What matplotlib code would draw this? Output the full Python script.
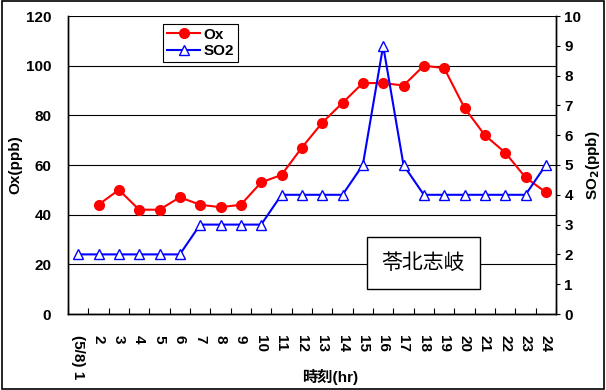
import numpy as np
import matplotlib
matplotlib.use("Agg")
import matplotlib.pyplot as plt
from matplotlib.patches import Rectangle

hours = list(range(1, 25))
hour_labels = ["(5/8) 1"] + [str(h) for h in range(2, 25)]
ox = [np.nan, 44, 50, 42, 42, 47, 44, 43, 44, 53, 56, 67, 77, 85, 93, 93, 92, 100, 99, 83, 72, 65, 55, 49]
so2 = [2, 2, 2, 2, 2, 2, 3, 3, 3, 3, 4, 4, 4, 4, 5, 9, 5, 4, 4, 4, 4, 4, 4, 5]
station = "苓北志岐"

plt.rcParams["font.family"] = ["Liberation Sans", "Noto Sans CJK JP", "DejaVu Sans"]
plt.rcParams["font.weight"] = "bold"

W, H = 606, 390
fig = plt.figure(figsize=(W / 100, H / 100), dpi=100)
ax = fig.add_axes([68 / W, 1 - 314 / H, 488 / W, 298 / H])
ax2 = ax.twinx()

x = np.arange(len(hours))
ax.plot(x, ox, color="#ff0000", lw=1.5, marker="o", ms=7, label="Ox", zorder=3)
ax2.plot(x, so2, color="#0000ff", lw=1.5, marker="^", ms=7, mfc="white", mec="#0000ff",
         mew=1.0, label="SO2", zorder=3)

ax.set_xlim(-0.5, len(hours) - 0.5)
ax.set_ylim(0, 120)
ax.set_yticks(range(0, 121, 20))
ax2.set_ylim(0, 10)
ax2.set_yticks(range(0, 11))
ax.yaxis.grid(True, color="black", lw=0.8)
ax.set_axisbelow(True)

ax.set_xticks(x)
ax.set_xticklabels(hour_labels, rotation=270, fontsize=11, fontweight="bold")
ax.tick_params(axis="x", length=0, pad=15)
ax.set_xticks(np.arange(-0.5, len(hours)), minor=True)
ax.tick_params(axis="x", which="minor", direction="in", length=4, width=0.8)
ax.tick_params(axis="y", length=0, labelsize=11, pad=12)
ax2.tick_params(axis="y", direction="out", length=3, width=0.8, labelsize=11, pad=3)
for lab in ax.get_yticklabels() + ax2.get_yticklabels():
    lab.set_fontweight("bold")

for a in (ax, ax2):
    for s in ("left", "right", "bottom"):
        a.spines[s].set_linewidth(1.0)
    a.spines["top"].set_visible(False)

fig.text(15 / W, 1 - 165 / H, "Ox(ppb)", rotation=90, ha="center", va="center",
         fontsize=11, fontweight="bold")
fig.text(593 / W, 1 - 165 / H, "SO$_\\mathbf{2}$(ppb)", rotation=90, ha="center", va="center",
         fontsize=11, fontweight="bold")
fig.text(330 / W, 1 - 377 / H, "時刻(hr)", ha="center", va="center", fontsize=11,
         fontweight="bold", family=["Liberation Sans", "Noto Sans CJK JP"])

h1, l1 = ax.get_legend_handles_labels()
h2, l2 = ax2.get_legend_handles_labels()
leg = ax2.legend(h1 + h2, l1 + l2, loc="upper left", bbox_to_anchor=((163 - 68) / 488, (314 - 24) / 298),
                 borderaxespad=0, frameon=True, fancybox=False, edgecolor="black", framealpha=1,
                 handlelength=2.2, handletextpad=0.2, borderpad=0.25,
                 labelspacing=0.15, prop={"weight": "bold", "size": 11})
leg.get_frame().set_linewidth(0.8)

ax2.text((423.5 - 68) / 488, (314 - 263) / 298, station, transform=ax2.transAxes,
         ha="center", va="center", fontsize=15, family=["Noto Sans CJK JP"], fontweight="normal",
         bbox=dict(boxstyle="square,pad=0.7", fc="white", ec="black", lw=1.0), zorder=5)

fig.patches.append(Rectangle((0.003, 0.003), 0.994, 0.994, transform=fig.transFigure,
                             fill=False, ec="black", lw=1.2))

fig.savefig("out.png", dpi=100)
